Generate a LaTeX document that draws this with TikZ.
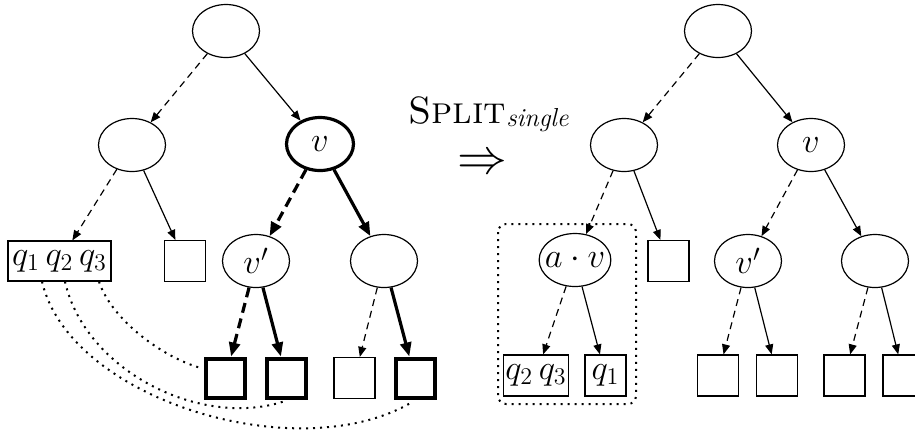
\documentclass[tikz,border=0pt]{standalone}
\usetikzlibrary{arrows.meta,shapes.geometric}
\begin{document}
\begin{tikzpicture}[x=0.5pt,y=-0.5pt,
  every node/.style={font=\fontsize{17}{20}\selectfont},
  inode/.style={draw,ellipse,line width=0.6pt,minimum width=33.5pt,minimum height=26.5pt,inner sep=0pt},
  inodeb/.style={inode,line width=1.6pt},
  leaf/.style={draw,rectangle,line width=0.6pt,minimum size=20.5pt,inner sep=0pt},
  leafb/.style={leaf,line width=2pt,minimum size=19.5pt},
  qbox/.style={draw,rectangle,line width=0.6pt,minimum height=20pt,inner sep=1pt},
  tsol/.style={line width=0.6pt,-{Triangle[length=5pt,width=4pt]}},
  tdash/.style={tsol,dash pattern=on 3.5pt off 2.5pt},
  bsol/.style={line width=1.6pt,-{Triangle[length=7pt,width=5.5pt]}},
  bdash/.style={bsol,dash pattern=on 5pt off 3pt},
  dots/.style={line width=1pt,dash pattern=on 1pt off 2.5pt}]
\clip (0,0) rectangle (915,435);

% ---- tree before the split ----
\node[inode]  (r1)  at (226,31)  {};
\node[inode]  (a1)  at (132,145) {};
\node[inodeb] (v1)  at (320,144) {$v$};
\node[qbox,minimum width=51.5pt] (qb) at (59.5,261) {$q_1\,q_2\,q_3$};
\node[leaf]   (s1)  at (185,261) {};
\node[inode]  (vp1) at (256,261) {$v'$};
\node[inode]  (c1)  at (384,261) {};
\node[leafb]  (b1)  at (225.5,378) {};
\node[leafb]  (b2)  at (286.5,378) {};
\node[leaf]   (b3)  at (354.5,378) {};
\node[leafb]  (b4)  at (415,378) {};

\draw[tdash] (r1) -- (a1);
\draw[tsol]  (r1) -- (v1);
\draw[tdash] (a1) -- (qb);
\draw[tsol]  (a1) -- (s1);
\draw[bdash] (v1) -- (vp1);
\draw[bsol]  (v1) -- (c1);
\draw[bdash] (vp1) -- (b1);
\draw[bsol]  (vp1) -- (b2);
\draw[tdash] (c1) -- (b3);
\draw[bsol]  (c1) -- (b4);

% query links from the leaf to the new leaves
\draw[dots] ([shift={(-17.5,0)}]qb.south) .. controls +(28,119) and +(-113,68) .. ([shift={(-2,2)}]b4.south);
\draw[dots] ([shift={(5.5,0)}]qb.south) .. controls +(20,89) and +(-83,27) .. ([shift={(-3,2)}]b2.south);
\draw[dots] ([shift={(39.5,0)}]qb.south) .. controls +(13,39) and +(-37,-10) .. ([shift={(-3,-10)}]b1.west);

% ---- operation label ----
\node[anchor=base west,inner sep=0pt,font=\fontsize{19}{22}\selectfont] (lbl) at (408,123)
  {\textsc{Split}\raisebox{-1.5pt}{\fontsize{13}{15}\selectfont\itshape single}};
\node[inner sep=0pt,font=\fontsize{27}{30}\selectfont] (arr) at (482,164) {$\Rightarrow$};

% ---- tree after the split ----
\node[inode]  (r2)  at (718,31)  {};
\node[inode]  (a2)  at (624,145) {};
\node[inode]  (v2)  at (811,145) {$v$};
\node[inode,inner xsep=-2.4pt] (av) at (575,260) {$a\cdot v$};
\node[leaf]   (s2)  at (668.5,261) {};
\node[inode]  (vp2) at (748,261) {$v'$};
\node[inode]  (c2)  at (875,261) {};
\node[qbox,minimum width=28pt,minimum height=20.5pt] (q23) at (536,375.5) {$q_2\,q_3$};
\node[leaf]   (q1b) at (605.5,375.5) {$q_1$};
\node[leaf]   (d1)  at (718,375.5) {};
\node[leaf]   (d2)  at (777,375.5) {};
\node[leaf]   (d3)  at (844.5,375.5) {};
\node[leaf]   (d4)  at (903.5,375.5) {};

\draw[dots,rounded corners=4pt] (498,224) rectangle (636,404);

\draw[tdash] (r2) -- (a2);
\draw[tsol]  (r2) -- (v2);
\draw[tdash] (a2) -- (av);
\draw[tsol]  (a2) -- (s2);
\draw[tdash] (v2) -- (vp2);
\draw[tsol]  (v2) -- (c2);
\draw[tdash] (av) -- (q23);
\draw[tsol]  (av) -- (q1b);
\draw[tdash] (vp2) -- (d1);
\draw[tsol]  (vp2) -- (d2);
\draw[tdash] (c2) -- (d3);
\draw[tsol]  (c2) -- (d4);
\end{tikzpicture}
\end{document}
